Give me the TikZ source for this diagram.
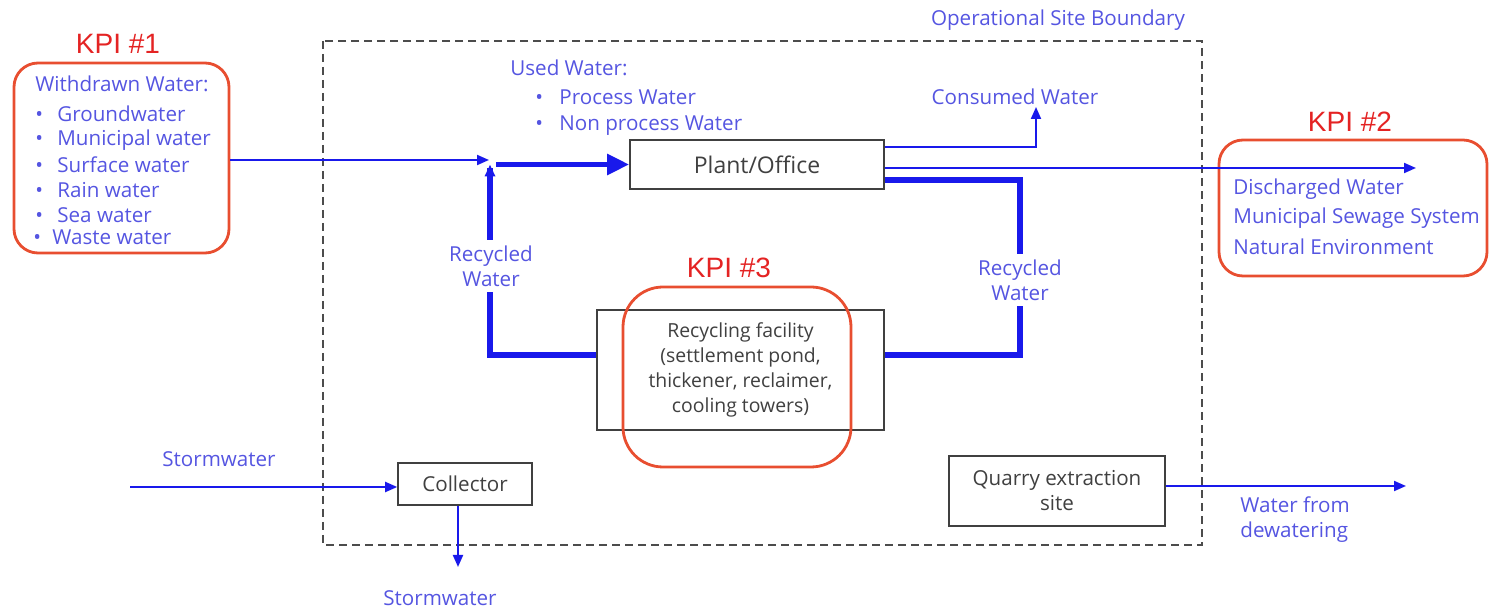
\documentclass[tikz,border=0pt]{standalone}
\usepackage{fontspec}
\setmainfont{Open Sans}
\newfontfamily\kpifont{Liberation Sans}
\usetikzlibrary{arrows.meta}

\definecolor{flowblue}{RGB}{25,25,235}
\definecolor{txtblue}{RGB}{85,85,225}
\definecolor{kpired}{RGB}{228,35,35}
\definecolor{kpiring}{RGB}{232,78,48}

\tikzset{
  unitbox/.style={draw=black!75, line width=0.8pt, fill=white, text=black!75, align=center, inner sep=0pt},
  kpiring/.style={draw=kpiring, line width=1.4pt, rounded corners=12pt, inner sep=0pt},
  kpilabel/.style={text=kpired, font=\kpifont\fontsize{14}{16}\selectfont, inner sep=0pt},
  flowtxt/.style={text=txtblue, font=\fontsize{10.3}{12.5}\selectfont, inner sep=0pt},
  thinflow/.style={draw=flowblue, line width=1pt, -{Triangle[length=6pt,width=5pt]}},
  thickflow/.style={draw=flowblue, line width=2.6pt},
}

\begin{document}
\begin{tikzpicture}[x=0.5pt,y=-0.5pt]
\useasboundingbox (0,0) rectangle (1489,608);

% site boundary
\draw [black!70, line width=0.8pt, dash pattern=on 4pt off 2.5pt] (323,41) rectangle (1202,545);
\node [flowtxt] (site) at (1058,20) {Operational Site Boundary};

% units
\node [unitbox, minimum width=127pt, minimum height=24.5pt, font=\fontsize{11.5}{13}\selectfont] (plant) at (757,164.5) {Plant/Office};
\node [unitbox, minimum width=143.5pt, minimum height=60pt, font=\fontsize{9.7}{12.6}\selectfont] (recycle) at (740.5,370) {Recycling facility\\(settlement pond,\\thickener, reclaimer,\\cooling towers)};
\node [unitbox, minimum width=67pt, minimum height=21pt, font=\fontsize{10.3}{12}\selectfont] (collector) at (465,484) {Collector};
\node [unitbox, minimum width=108pt, minimum height=35pt, font=\fontsize{10.3}{12.5}\selectfont] (quarry) at (1057,491) {Quarry extraction\\site};

% KPI rings
\node [kpiring, minimum width=107.5pt, minimum height=95pt] (kpi1) at (121.5,158) {};
\node [kpiring, minimum width=134pt, minimum height=68pt] (kpi2) at (1353,208) {};
\node [kpiring, rounded corners=20pt, minimum width=114pt, minimum height=90pt] (kpi3) at (737,377) {};
\node [kpilabel] (kpi1lab) at (118,44) {KPI \#1};
\node [kpilabel] (kpi2lab) at (1350,122) {KPI \#2};
\node [kpilabel] (kpi3lab) at (729,268) {KPI \#3};

% withdrawn water
\node [flowtxt, anchor=west] (withdrawn) at (35,84) {Withdrawn Water:};
\node [flowtxt, anchor=west] (ground) at (35,114) {\makebox[11pt][l]{•}Groundwater};
\node [flowtxt, anchor=west] (municipal) at (35,140) {\makebox[11pt][l]{•}Municipal water};
\node [flowtxt, anchor=west] (surface) at (35,165) {\makebox[11pt][l]{•}Surface water};
\node [flowtxt, anchor=west] (rain) at (35,190) {\makebox[11pt][l]{•}Rain water};
\node [flowtxt, anchor=west] (sea) at (35,215) {\makebox[11pt][l]{•}Sea water};
\node [flowtxt, anchor=west] (waste) at (33,237) {\makebox[9.5pt][l]{•}Waste water};

% used water
\node [flowtxt, anchor=west] (used) at (510,68) {Used Water:};
\node [flowtxt, anchor=west] (process) at (535,97) {\makebox[12pt][l]{•}Process Water};
\node [flowtxt, anchor=west] (nonprocess) at (535,126) {\makebox[12pt][l]{•}Non process Water};

% discharged water
\node [flowtxt, anchor=west] (discharged) at (1233,189) {Discharged Water};
\node [flowtxt, anchor=west] (sewage) at (1233,218) {Municipal Sewage System};
\node [flowtxt, anchor=west] (natural) at (1233,247) {Natural Environment};

\node [flowtxt] (consumed) at (1015,97) {Consumed Water};

% free ends
\coordinate (junc) at (489,160);
\coordinate (mix) at (490,164.5);
\coordinate (cwtip) at (1036,107);
\coordinate (distip) at (1416,168);
\coordinate (recR) at (1020,355);
\coordinate (stormin) at (130,487);
\coordinate (stormout) at (458,567);
\coordinate (dewater) at (1406,486);

% flows
\draw [thinflow] (kpi1.east |- junc) -- (junc);
\draw [thickflow, -{Triangle[length=11pt,width=10pt]}] ([xshift=3pt]mix) -- (plant.west);
\draw [thickflow] (recycle.west |- recR) -| ([yshift=-2pt]mix);
\draw [draw=flowblue, line width=2pt, -{Triangle[length=6pt,width=5pt]}] (490,200) -- (mix);
\draw [thinflow] ([yshift=8.75pt]plant.east) -| (cwtip);
\draw [thinflow] ([yshift=-1.75pt]plant.east) -- (distip);
\draw [thickflow] ([yshift=-7.75pt]plant.east) -| (recR) -- (recycle.east |- recR);
\draw [thinflow] (stormin) -- (collector.west |- stormin);
\draw [thinflow] (collector.south -| stormout) -- (stormout);
\draw [thinflow] (quarry.east |- dewater) -- (dewater);

% flow labels
\node [flowtxt, fill=white, align=center, inner sep=3pt] (recleft) at (491,266) {Recycled\\Water};
\node [flowtxt, fill=white, align=center, inner sep=3pt] (recright) at (1020,280) {Recycled\\Water};
\node [flowtxt] (stormlab) at (219,459) {Stormwater};
\node [flowtxt] (stormlab2) at (440,598) {Stormwater};
\node [flowtxt, anchor=west, align=left] (dewlab) at (1240,520) {Water from\\dewatering};
\end{tikzpicture}
\end{document}
